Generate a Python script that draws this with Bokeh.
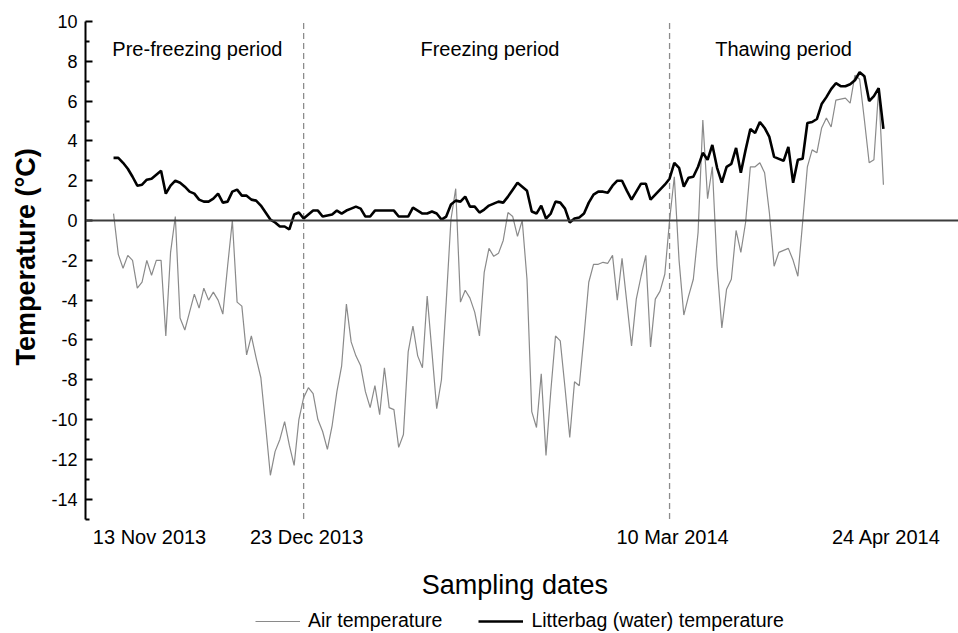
import pandas as pd
from bokeh.plotting import figure
from bokeh.models import (Range1d, FixedTicker, Span, Legend, LegendItem,
                          ColumnDataSource, Title)
from bokeh.core.properties import value
from bokeh.embed import file_html
from bokeh.resources import INLINE

# ---------------- data ----------------
start_date = "2013-11-13"

air_temperature = [
    0.35, -1.7, -2.4, -1.75, -2.0, -3.4, -3.1, -2.0, -2.75, -2.0,
    -2.0, -5.8, -1.6, 0.2, -4.9, -5.5, -4.6, -3.7, -4.4, -3.4,
    -4.0, -3.6, -4.0, -4.7, -2.3, 0.0, -4.1, -4.3, -6.75, -5.8,
    -6.9, -7.9, -10.3, -12.8, -11.6, -11.0, -10.1, -11.3, -12.3, -10.0,
    -8.9, -8.4, -8.7, -10.0, -10.6, -11.5, -10.3, -8.6, -7.3, -4.2,
    -6.1, -6.8, -7.3, -8.6, -9.4, -8.3, -9.75, -7.4, -9.4, -9.5,
    -11.4, -10.75, -6.6, -5.3, -6.8, -7.4, -3.8, -6.6, -9.45, -8.0,
    -4.1, 0.05, 1.6, -4.1, -3.5, -3.9, -4.6, -5.8, -2.6, -1.4,
    -1.8, -1.65, -1.0, 0.4, 0.2, -0.8, 0.0, -2.95, -9.6, -10.4,
    -7.7, -11.8, -8.6, -5.8, -6.05, -8.4, -10.9, -8.1, -8.3, -5.8,
    -3.1, -2.2, -2.2, -2.1, -2.15, -1.75, -4.0, -1.9, -4.1, -6.3,
    -3.95, -2.8, -1.75, -6.35, -3.95, -3.55, -2.7, 0.0, 2.2, -2.0,
    -4.75, -3.8, -2.95, -0.6, 5.05, 1.1, 2.7, -2.3, -5.4, -3.45,
    -2.95, -0.5, -1.6, -0.1, 2.7, 2.7, 2.9, 2.4, 0.4, -2.3,
    -1.6, -1.5, -1.4, -2.0, -2.8, -0.1, 2.7, 3.55, 3.4, 4.65,
    5.15, 4.7, 6.05, 6.1, 6.15, 5.9, 7.3, 7.1, 5.05, 2.9,
    3.05, 6.6, 1.8,
]

litterbag_temperature = [
    3.15, 3.15, 2.9, 2.6, 2.2, 1.75, 1.8, 2.05, 2.1, 2.3,
    2.5, 1.35, 1.75, 2.0, 1.9, 1.7, 1.45, 1.35, 1.05, 0.95,
    0.95, 1.1, 1.35, 0.9, 0.95, 1.45, 1.55, 1.25, 1.25, 1.05,
    1.0, 0.75, 0.4, 0.05, -0.1, -0.3, -0.3, -0.45, 0.3, 0.4,
    0.1, 0.3, 0.5, 0.5, 0.2, 0.25, 0.3, 0.5, 0.35, 0.5,
    0.6, 0.7, 0.6, 0.2, 0.2, 0.5, 0.5, 0.5, 0.5, 0.5,
    0.2, 0.2, 0.2, 0.65, 0.5, 0.35, 0.35, 0.45, 0.35, 0.05,
    0.2, 0.8, 1.0, 0.95, 1.2, 0.7, 0.7, 0.4, 0.55, 0.75,
    0.85, 0.95, 0.9, 1.2, 1.55, 1.9, 1.7, 1.5, 0.45, 0.35,
    0.75, 0.1, 0.35, 0.95, 0.9, 0.6, -0.1, 0.1, 0.15, 0.35,
    0.9, 1.3, 1.45, 1.45, 1.4, 1.75, 2.0, 2.0, 1.5, 1.05,
    1.45, 1.85, 1.85, 1.05, 1.3, 1.55, 1.8, 2.1, 2.9, 2.65,
    1.7, 2.15, 2.2, 2.7, 3.4, 3.05, 3.8, 2.65, 1.9, 2.7,
    2.85, 3.65, 2.4, 3.55, 4.6, 4.4, 4.95, 4.65, 4.2, 3.2,
    3.1, 3.0, 3.7, 1.9, 3.05, 3.1, 4.9, 4.95, 5.1, 5.85,
    6.2, 6.6, 6.9, 6.75, 6.75, 6.85, 7.05, 7.45, 7.25, 6.0,
    6.25, 6.65, 4.6,
]

tick_dates = ["2013-11-13", "2013-12-23", "2014-03-10", "2014-04-24"]
tick_labels = ["13 Nov 2013", "23 Dec 2013", "10 Mar 2014", "24 Apr 2014"]
period_boundaries = ["2013-12-23", "2014-03-10"]
period_names = ["Pre-freezing period", "Freezing period", "Thawing period"]
y_ticks = list(range(-14, 11, 2))
y_minor_ticks = list(range(-15, 10, 2))
series_names = ["Air temperature", "Litterbag (water) temperature"]
x_title = "Sampling dates"
y_title = "Temperature (°C)"

# ---------------- derived ----------------
t0 = pd.Timestamp(start_date)
dates = pd.date_range(t0, periods=len(air_temperature), freq="D")
days = [int((d - t0).days) for d in dates]


def day_of(s):
    return int((pd.Timestamp(s) - t0).days)


FONT = "Liberation Sans"
Y_LOW, Y_HIGH = y_minor_ticks[0], y_ticks[-1]

# the frame reaches the bottom of the canvas so that the date labels,
# the x title and the legend can sit below the y axis (which stops at -15)
p = figure(width=958, height=633, output_backend="svg", toolbar_location=None,
           x_range=Range1d(-5.9, 177.8), y_range=Range1d(-20.75, 10),
           min_border_left=85, min_border_right=0, min_border_top=21,
           min_border_bottom=0)
p.outline_line_color = None
p.grid.visible = False
p.xaxis.visible = False
p.background_fill_color = "white"
p.border_fill_color = "white"

# y axis
ya = p.yaxis[0]
ya.bounds = (Y_LOW, Y_HIGH)
ya.ticker = FixedTicker(ticks=y_ticks, minor_ticks=y_minor_ticks)
ya.major_label_overrides = {t: str(t) for t in y_ticks}
ya.axis_line_color = "black"
ya.axis_line_width = 2
ya.major_tick_in = 7
ya.major_tick_out = 0
ya.major_tick_line_width = 2
ya.major_tick_line_color = "black"
ya.minor_tick_in = 4
ya.minor_tick_out = 0
ya.minor_tick_line_width = 2
ya.minor_tick_line_color = "black"
ya.major_label_standoff = 8
ya.major_label_text_font = FONT
ya.major_label_text_font_size = "18px"
ya.major_label_text_color = "black"

p.add_layout(Title(text=y_title, align="left", vertical_align="middle", offset=268,
                   standoff=13, text_font=FONT, text_font_size="27px",
                   text_font_style="bold", text_color="black"), "left")

# date labels below the y axis
tick_pos = [day_of(d) for d in tick_dates]
p.text(x=tick_pos[1:], y=[-15.88] * 3, text=tick_labels[1:], x_offset=3,
       text_font=value(FONT), text_font_size="20px", text_align="center",
       text_baseline="alphabetic", text_color="black")
p.text(x=tick_pos[:1], y=[-15.88], text=tick_labels[:1], x_offset=36,
       text_font=value(FONT), text_font_size="20px", text_align="center",
       text_baseline="alphabetic", text_color="black")

# x title
x_mid = (p.x_range.start + p.x_range.end) / 2 - 1.5
p.text(x=[x_mid], y=[-18.29], text=[x_title], text_font=value(FONT),
       text_font_size="27px", text_align="center", text_baseline="alphabetic",
       text_color="black")

# period boundaries and zero line
bd = [day_of(b) for b in period_boundaries]
p.segment(x0=bd, y0=[Y_LOW] * len(bd), x1=bd, y1=[Y_HIGH] * len(bd),
          line_color="#8c8c8c", line_width=1.3, line_dash="6 4")
p.add_layout(Span(location=0, dimension="width", line_color="#3c3c3c", line_width=2))

src = ColumnDataSource(dict(day=days, air=air_temperature, litter=litterbag_temperature))
r_air = p.line("day", "air", source=src, line_color="#8a8a8a", line_width=1.2)
r_lit = p.line("day", "litter", source=src, line_color="black", line_width=2.6)

# period names
b1, b2 = bd
centers = [(p.x_range.start + b1) / 2 + 0.6, (b1 + b2) / 2 + 0.7, (b2 + days[-1]) / 2 + 1.5]
p.text(x=centers, y=[8.63] * 3, text=period_names, text_font=value(FONT),
       text_font_size="20px", text_align="center", text_baseline="alphabetic",
       text_color="black")

legend = Legend(items=[LegendItem(label=series_names[0], renderers=[r_air]),
                       LegendItem(label=series_names[1], renderers=[r_lit])],
                orientation="horizontal", location=(170, 1),
                border_line_color=None, background_fill_alpha=0,
                label_text_font=FONT, label_text_font_size="19.5px",
                label_text_color="black",
                glyph_width=45, glyph_height=18, label_height=18,
                label_standoff=8, spacing=36, padding=0, margin=0)
p.add_layout(legend)

open("out.html", "w").write(file_html(p, INLINE))
